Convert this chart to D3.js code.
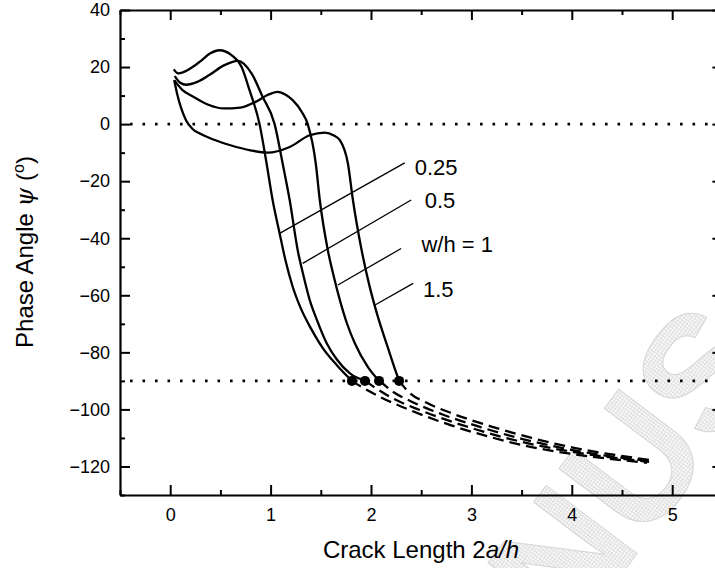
<!DOCTYPE html>
<html><head><meta charset="utf-8">
<script src="https://cdn.jsdelivr.net/npm/d3@7"></script>
<style>
body{margin:0;background:#fff}
svg{display:block}
text{font-family:"Liberation Sans",Arial,Helvetica,sans-serif;fill:#000}
</style>
</head><body>
<svg id="chart" width="715" height="568"></svg>
<script>
// ---------- data ----------
const seriesLabels = ["0.25", "0.5", "w/h = 1", "1.5"];
const xTickValues = [0, 1, 2, 3, 4, 5];
const yTickValues = [-120, -100, -80, -60, -40, -20, 0, 20, 40];
const refLines = [0, -90];

// solid curves (w/h = 0.25, 0.5, 1, 1.5)
const solidX025 = [0.035, 0.08, 0.2, 0.3, 0.4, 0.49, 0.61, 0.71, 0.79, 0.89, 0.96, 1.02, 1.09, 1.15, 1.22, 1.3, 1.4, 1.52, 1.66, 1.81];
const solidY025 = [19.2, 17.8, 19.5, 22, 24.8, 25.9, 24.2, 20.1, 11.9, 0, -13.8, -26.6, -38.3, -48, -57, -64.5, -71.5, -78.5, -84.5, -90];
const solidX05 = [0.045, 0.1, 0.16, 0.27, 0.39, 0.53, 0.675, 0.81, 0.92, 1.04, 1.12, 1.19, 1.27, 1.33, 1.39, 1.46, 1.56, 1.66, 1.79, 1.94];
const solidY05 = [16.8, 14.5, 13.8, 14.8, 17.2, 20.5, 22.2, 17.8, 9.6, 0, -13.8, -26.6, -44.2, -53.5, -61.7, -68.5, -76.9, -82.5, -87.4, -90];
const solidX1 = [0.04, 0.12, 0.23, 0.38, 0.53, 0.7, 0.85, 0.97, 1.07, 1.15, 1.22, 1.31, 1.37, 1.45, 1.49, 1.57, 1.63, 1.69, 1.76, 1.84, 1.97, 2.08];
const solidY1 = [15.4, 12, 9.6, 6.8, 5.5, 5.8, 7.8, 10.2, 11.3, 10.3, 8.4, 4.3, 0, -13.8, -26.6, -44.2, -53.5, -61.7, -69.8, -76.9, -85.2, -90];
const solidX15 = [0.04, 0.07, 0.11, 0.16, 0.22, 0.3, 0.43, 0.6, 0.8, 0.97, 1.19, 1.39, 1.54, 1.63, 1.69, 1.77, 1.82, 1.90, 1.98, 2.06, 2.16, 2.23, 2.28];
const solidY15 = [15.4, 10.5, 5.5, 1.2, -1.6, -3.4, -5.4, -7.4, -9.2, -10, -8, -3.9, -3.0, -4, -5.6, -13.8, -26.6, -43, -56, -66.5, -77.5, -85, -90];

// dashed continuations
const dashX025 = [1.805, 1.91, 2.1, 2.4, 2.8, 3.2, 3.6, 4.0, 4.4, 4.75];
const dashY025 = [-90, -92.2, -95.8, -100.4, -105.6, -109.8, -113.2, -115.6, -117.4, -118.7];
const dashX05 = [1.944, 2.05, 2.2, 2.5, 2.9, 3.3, 3.7, 4.1, 4.5, 4.77];
const dashY05 = [-90, -92.6, -95.8, -100.4, -105.4, -109.6, -112.9, -115.4, -117.3, -118.4];
const dashX1 = [2.087, 2.21, 2.4, 2.7, 3.1, 3.5, 3.9, 4.3, 4.6, 4.79];
const dashY1 = [-90, -93.6, -97.2, -101.6, -106.3, -110.3, -113.5, -116, -117.4, -118.2];
const dashX15 = [2.279, 2.385, 2.55, 2.8, 3.2, 3.6, 4.0, 4.4, 4.8];
const dashY15 = [-90, -94.2, -97.6, -101.3, -106, -110, -113.3, -115.8, -117.8];

// label leader lines and label anchor points (data coordinates)
const leaderX1 = [1.09, 1.32, 1.67, 2.04];
const leaderY1 = [-38.3, -48.8, -56.4, -63.4];
const leaderX2 = [2.336, 2.40, 2.30, 2.42];
const leaderY2 = [-13.6, -26.6, -43.6, -55.8];
const labelX = [2.435, 2.535, 2.502, 2.518];
const labelY = [-17.9, -29.5, -44.8, -60.5];

// ---------- drawing ----------
const svg = d3.select("#chart");
const x = d3.scaleLinear().domain([-0.5, 5.5]).range([120, 722.4]);
const y = d3.scaleLinear().domain([-130, 40]).range([495, 10]);

// watermark
const defs = svg.append("defs");
const pat = defs.append("pattern").attr("id", "hatch").attr("width", 3).attr("height", 3)
  .attr("patternUnits", "userSpaceOnUse");
pat.append("rect").attr("width", 3).attr("height", 3).attr("fill", "#fafafa");
pat.append("path").attr("d", "M0,0.5H3M0.5,0V3").attr("stroke", "#dcdcdc").attr("stroke-width", 0.8);
svg.append("text").text("NUS")
  .attr("transform", "translate(572,640) rotate(-53)")
  .style("font-size", "165px").style("font-weight", "bold")
  .attr("stroke", "#d6d6d6").attr("stroke-width", 1)
  .style("fill", "url(#hatch)");

const plot = svg.append("g");

// reference dotted lines
refLines.forEach(v => {
  plot.append("line")
    .attr("x1", x(-0.5) + 10).attr("x2", x(5.5))
    .attr("y1", y(v)).attr("y2", y(v))
    .attr("stroke", "#000").attr("stroke-width", 2.6)
    .attr("stroke-dasharray", "2.6 9.9");
});

const line = d3.line().x(d => x(d[0])).y(d => y(d[1])).curve(d3.curveMonotoneX);
const zip = (a, b) => a.map((v, i) => [v, b[i]]);

const solids = [[solidX025, solidY025], [solidX05, solidY05], [solidX1, solidY1], [solidX15, solidY15]];
const dashes = [[dashX025, dashY025], [dashX05, dashY05], [dashX1, dashY1], [dashX15, dashY15]];

dashes.forEach(([xs, ys]) => {
  plot.append("path").attr("d", line(zip(xs, ys)))
    .attr("fill", "none").attr("stroke", "#000").attr("stroke-width", 2.3)
    .attr("stroke-dasharray", "11 6");
});
solids.forEach(([xs, ys]) => {
  plot.append("path").attr("d", line(zip(xs, ys)))
    .attr("fill", "none").attr("stroke", "#000").attr("stroke-width", 2.3)
    .attr("stroke-linejoin", "round");
});
solids.forEach(([xs, ys]) => {
  const n = xs.length - 1;
  plot.append("circle").attr("cx", x(xs[n])).attr("cy", y(ys[n])).attr("r", 5).attr("fill", "#000");
});

// leader lines and labels
seriesLabels.forEach((lab, i) => {
  plot.append("line")
    .attr("x1", x(leaderX1[i])).attr("y1", y(leaderY1[i]))
    .attr("x2", x(leaderX2[i])).attr("y2", y(leaderY2[i]))
    .attr("stroke", "#000").attr("stroke-width", 1.3);
  plot.append("text").text(lab)
    .attr("x", x(labelX[i])).attr("y", y(labelY[i]))
    .style("font-size", "22px");
});

// axes
const xMinor = d3.range(-0.5, 5.51, 0.5).filter(v => Math.abs(v - Math.round(v)) > 0.1);
const yMinor = d3.range(-130, 41, 10).filter(v => v % 20 !== 0);

function styleAxis(g) {
  g.select(".domain").attr("stroke-width", 2.2);
  g.selectAll(".tick line").attr("stroke-width", 2);
  g.selectAll(".tick text").style("font-size", "18px").attr("font-family", null);
}

const gB = svg.append("g").attr("transform", `translate(0,${y(-130)})`)
  .call(d3.axisBottom(x).tickValues(xTickValues).tickSize(-10).tickPadding(13).tickSizeOuter(0).tickFormat(d3.format("d")));
styleAxis(gB);
svg.append("g").attr("transform", `translate(0,${y(-130)})`)
  .call(d3.axisBottom(x).tickValues(xMinor).tickSize(-5).tickFormat("").tickSizeOuter(0))
  .call(g => { g.select(".domain").remove(); g.selectAll(".tick line").attr("stroke-width", 2); });

const gT = svg.append("g").attr("transform", `translate(0,${y(40)})`)
  .call(d3.axisTop(x).tickValues(xTickValues).tickSize(-10).tickFormat("").tickSizeOuter(0));
styleAxis(gT);
svg.append("g").attr("transform", `translate(0,${y(40)})`)
  .call(d3.axisTop(x).tickValues(xMinor).tickSize(-5).tickFormat("").tickSizeOuter(0))
  .call(g => { g.select(".domain").remove(); g.selectAll(".tick line").attr("stroke-width", 2); });

const gL = svg.append("g").attr("transform", `translate(${x(-0.5)},0)`)
  .call(d3.axisLeft(y).tickValues(yTickValues).tickSize(-10).tickPadding(10).tickSizeOuter(0));
styleAxis(gL);
svg.append("g").attr("transform", `translate(${x(-0.5)},0)`)
  .call(d3.axisLeft(y).tickValues(yMinor).tickSize(-5).tickFormat("").tickSizeOuter(0))
  .call(g => { g.select(".domain").remove(); g.selectAll(".tick line").attr("stroke-width", 2); });

const gR = svg.append("g").attr("transform", `translate(${x(5.5)},0)`)
  .call(d3.axisRight(y).tickValues(yTickValues).tickSize(-10).tickFormat("").tickSizeOuter(0));
styleAxis(gR);
svg.append("g").attr("transform", `translate(${x(5.5)},0)`)
  .call(d3.axisRight(y).tickValues(yMinor).tickSize(-5).tickFormat("").tickSizeOuter(0))
  .call(g => { g.select(".domain").remove(); g.selectAll(".tick line").attr("stroke-width", 2); });

// axis titles
const xt = svg.append("text").attr("x", 421).attr("y", 558).attr("text-anchor", "middle").style("font-size", "24px");
xt.append("tspan").text("Crack Length 2");
xt.append("tspan").text("a/h").style("font-style", "italic");

const yt = svg.append("text").attr("transform", "translate(33,252) rotate(-90)")
  .attr("text-anchor", "middle").style("font-size", "24px");
yt.append("tspan").text("Phase Angle ");
yt.append("tspan").text("ψ").style("font-style", "italic").style("font-family", "'DejaVu Serif',serif");
yt.append("tspan").text(" (");
yt.append("tspan").text("o").attr("dy", -9).style("font-size", "16px");
yt.append("tspan").text(")").attr("dy", 9);
</script>
</body></html>
